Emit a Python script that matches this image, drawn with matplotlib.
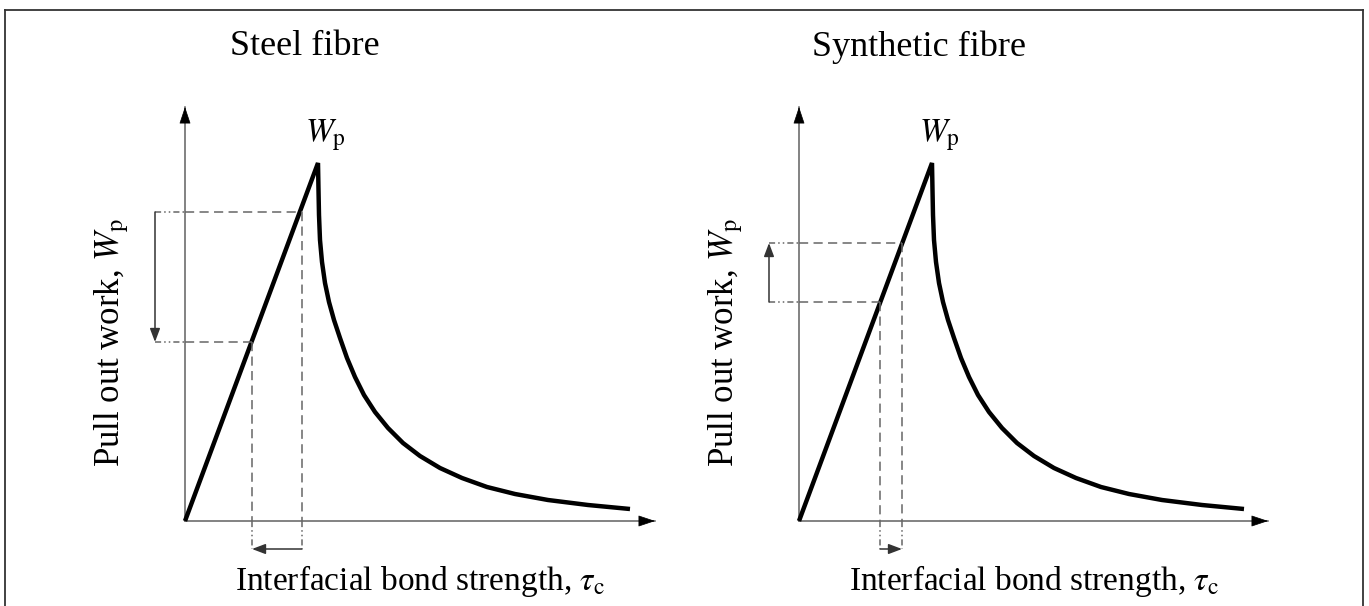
import matplotlib.pyplot as plt
from matplotlib.lines import Line2D

plt.rcParams['font.family'] = ['Liberation Serif', 'DejaVu Serif']
plt.rcParams['mathtext.fontset'] = 'stix'

# panel titles and axis labels
titles = ["Steel fibre", "Synthetic fibre"]
xlabel = r"Interfacial bond strength, $\tau_\mathrm{c}$"
ylabel = r"Pull out work, $W_\mathrm{p}$"
peak_label = r"$W_\mathrm{p}$"

# pull-out work curve (same shape in both panels): rise to peak then decay
curve_tau = [0.0, 13.3, 13.35, 13.4, 13.5, 13.7, 14.0, 14.4, 14.9, 15.5, 16.2,
             17.0, 17.9, 19.0, 20.3, 21.8, 23.5, 25.5, 27.7, 30.2, 33.0, 36.3,
             40.3, 44.5]
curve_w = [0.0, 35.8, 33.1, 30.6, 28.1, 25.9, 23.8, 21.9, 20.1, 18.3, 16.3,
           14.4, 12.6, 10.9, 9.3, 7.8, 6.5, 5.3, 4.3, 3.4, 2.7, 2.1,
           1.6, 1.2]

# reading points on the rising branch: (tau_high, W_high), (tau_low, W_low)
steel_high = (11.7, 30.9)
steel_low = (6.7, 17.9)
synth_high = (10.3, 27.8)
synth_low = (8.1, 21.9)
# direction of the change: steel goes down/left, synthetic goes up/right
shifts = [(steel_high, steel_low, "down"), (synth_high, synth_low, "up")]

x_axis_end = [47.0, 46.9]
y_axis_end = 41.4
arrow_x = -3.0   # vertical dimension arrow position
arrow_y = -2.8   # horizontal dimension arrow position

fig = plt.figure(figsize=(13.69, 6.06), dpi=100)

# outer frame (open at the bottom)
W, H = 1369, 606
for xs, ys in [([5, 5], [0, 596]), ([5, 1363], [596, 596]), ([1363, 1363], [596, 0])]:
    fig.add_artist(Line2D([x / W for x in xs], [y / H for y in ys],
                          transform=fig.transFigure, color='#333333', lw=1.3))

AX_GRAY = '#606060'
DASH_GRAY = '#666666'
dashed = (0, (6, 3.5))
dashdot = (0, (4, 2, 1, 2, 1, 2))
head_big = "-|>,head_length=0.6,head_width=0.2"
head_small = "-|>,head_length=0.45,head_width=0.17"

lefts = [85, 699]
for i in range(2):
    ax = fig.add_axes([lefts[i] / W, 6 / H, 600 / W, 585 / H])
    ax.set_xlim(-10, 50)
    ax.set_ylim(-7.9, 50.6)
    ax.axis('off')

    # axes with arrowheads
    ax.plot([0, x_axis_end[i]], [0, 0], color=AX_GRAY, lw=1.1)
    ax.plot([0, 0], [0, y_axis_end], color=AX_GRAY, lw=1.1)
    ax.annotate("", xy=(x_axis_end[i], 0), xytext=(x_axis_end[i] - 0.5, 0),
                arrowprops=dict(arrowstyle=head_big, color='black', lw=0.5,
                                mutation_scale=18, shrinkA=0, shrinkB=0))
    ax.annotate("", xy=(0, y_axis_end), xytext=(0, y_axis_end - 0.5),
                arrowprops=dict(arrowstyle=head_big, color='black', lw=0.5,
                                mutation_scale=18, shrinkA=0, shrinkB=0))

    # main curve
    ax.plot(curve_tau, curve_w, color='black', lw=3.2, solid_joinstyle='miter',
            solid_capstyle='butt')

    hi, lo, direction = shifts[i]
    for (t, w) in (hi, lo):
        # horizontal guide: dash-dot-dot left of the axis, dashed to the curve
        ax.plot([arrow_x, 0], [w, w], color=DASH_GRAY, lw=1.1, linestyle=dashdot)
        ax.plot([0, t], [w, w], color=DASH_GRAY, lw=1.1, linestyle=dashed)
        # vertical guide: dashed down to the x axis, dash-dot-dot below
        ax.plot([t, t], [w, 0], color=DASH_GRAY, lw=1.1, linestyle=dashed)
        ax.plot([t, t], [0, arrow_y], color=DASH_GRAY, lw=1.1, linestyle=dashdot)

    if direction == "down":
        v_from, v_to = hi[1], lo[1]
        h_from, h_to = hi[0], lo[0]
    else:
        v_from, v_to = lo[1], hi[1]
        h_from, h_to = lo[0], hi[0]
    ax.annotate("", xy=(arrow_x, v_to), xytext=(arrow_x, v_from),
                arrowprops=dict(arrowstyle=head_small, color='#333333', lw=1.1,
                                mutation_scale=18, shrinkA=0, shrinkB=0))
    ax.annotate("", xy=(h_to, arrow_y), xytext=(h_from, arrow_y),
                arrowprops=dict(arrowstyle=head_small, color='#333333', lw=1.1,
                                mutation_scale=18, shrinkA=0, shrinkB=0))

    # texts
    ax.text(12.0, 47.4, titles[i], fontsize=26, ha='center', va='center')
    ax.text(14.0, 37.9, peak_label, fontsize=24, ha='center', va='baseline')
    ax.text(23.5, -6.9, xlabel, fontsize=24, ha='center', va='baseline')
    ax.text(-7.3, 17.9, ylabel, fontsize=25, ha='center', va='center',
            rotation=90)

fig.savefig("out.png", dpi=100)
